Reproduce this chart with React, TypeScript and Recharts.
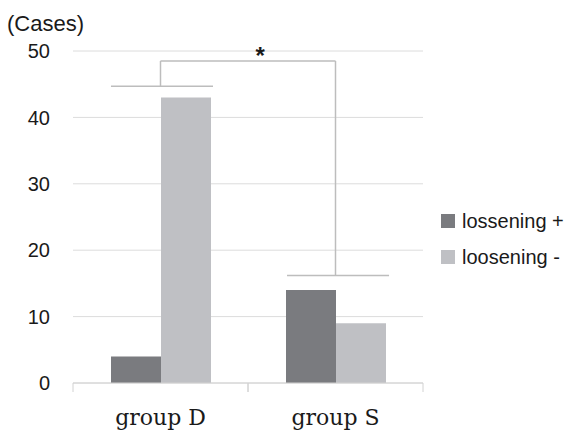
import { BarChart, Bar, XAxis, YAxis, CartesianGrid, ReferenceLine, ReferenceDot } from 'recharts';

// categorias e valores
const groups = ['group D', 'group S'];
const groupPos = [0.5, 1.5];
const loosenPlus = [4, 14];
const loosenMinus = [43, 9];
const seriesNames = ['lossening +', 'loosening -'];
const seriesColors = ['#7a7b7f', '#bfc0c4'];
const yTicks = [0, 10, 20, 30, 40, 50];

// colchete de significância (eixo numérico auxiliar: grupo D = 0..1, grupo S = 1..2)
const bracketTop = 48.5;
const bracketLevels = [44.7, 16.2];
const bracketSpans = [[0.217, 0.8], [1.223, 1.806]];
const starPos = { x: 1.07, y: 48.5 };

const sans = '"Liberation Sans", Arial, sans-serif';
const serif = '"DejaVu Serif", serif';
const lineColor = '#bdbdbd';

// tick do eixo X com marcas nas bordas de cada categoria
const GroupTick = (props: any) => {
  const { x, y, payload } = props;
  const half = payload.offset ?? 0;
  return (
    <g>
      <line x1={x - half} x2={x - half} y1={y - 9} y2={y} stroke="#d2d2d2" />
      <line x1={x + half} x2={x + half} y1={y - 9} y2={y} stroke="#d2d2d2" />
      <text x={x} y={y + 33} textAnchor="middle" fontSize={22} fontFamily={serif} fill="#1a1a1a">
        {payload.value}
      </text>
    </g>
  );
};

export default function App() {
  const data = groups.map((g, i) => ({ name: g, pos: groupPos[i], plus: loosenPlus[i], minus: loosenMinus[i] }));

  return (
    <div style={{ position: 'absolute', left: 0, top: 0, width: 573, height: 430, background: '#fff' }}>
      <BarChart
        width={573}
        height={430}
        data={data}
        margin={{ top: 51, right: 150, bottom: 0, left: 0 }}
        barGap={0}
        barSize={50}
      >
        <CartesianGrid vertical={false} stroke="#dcdcdc" />
        <XAxis
          dataKey="name"
          height={47}
          stroke="#d2d2d2"
          tickLine={false}
          tickSize={0}
          tickMargin={9}
          tick={<GroupTick />}
        />
        <XAxis xAxisId="num" dataKey="pos" type="number" domain={[0, 2]} allowDataOverflow hide />
        <YAxis
          width={73}
          domain={[0, 50]}
          ticks={yTicks}
          axisLine={false}
          tickLine={false}
          tickSize={0}
          tickMargin={23}
          tick={{ fontSize: 20, fontFamily: sans, fill: '#1a1a1a' }}
          label={{
            content: () => (
              <text x={7} y={31} fontSize={22} fontFamily={sans} fill="#1a1a1a">
                (Cases)
              </text>
            ),
          }}
        />
        <Bar dataKey="plus" name={seriesNames[0]} fill={seriesColors[0]} isAnimationActive={false} />
        <Bar dataKey="minus" name={seriesNames[1]} fill={seriesColors[1]} isAnimationActive={false} />

        {/* colchete */}
        <ReferenceLine
          xAxisId="num"
          stroke={lineColor}
          strokeWidth={1.5}
          ifOverflow="visible"
          segment={[{ x: groupPos[0], y: bracketTop }, { x: groupPos[1], y: bracketTop }]}
        />
        {groupPos.map((c, i) => (
          <ReferenceLine
            key={`v-${i}`}
            xAxisId="num"
            stroke={lineColor}
            strokeWidth={1.5}
            ifOverflow="visible"
            segment={[{ x: c, y: bracketTop }, { x: c, y: bracketLevels[i] }]}
          />
        ))}
        {bracketSpans.map((s, i) => (
          <ReferenceLine
            key={`h-${i}`}
            xAxisId="num"
            stroke={lineColor}
            strokeWidth={1.5}
            ifOverflow="visible"
            segment={[{ x: s[0], y: bracketLevels[i] }, { x: s[1], y: bracketLevels[i] }]}
          />
        ))}
        <ReferenceDot
          xAxisId="num"
          x={starPos.x}
          y={starPos.y}
          r={0}
          stroke="none"
          ifOverflow="visible"
          label={{
            content: (p: any) => (
              <text
                x={p.viewBox.cx ?? p.viewBox.x}
                y={(p.viewBox.cy ?? p.viewBox.y) + 3}
                textAnchor="middle"
                fontSize={24}
                fontWeight="bold"
                fontFamily={sans}
                fill="#1a1a1a"
              >
                *
              </text>
            ),
          }}
        />
      </BarChart>

      {/* legenda */}
      <div style={{ position: 'absolute', left: 441, top: 203, fontFamily: sans, fontSize: 20, color: '#1a1a1a' }}>
        {seriesNames.map((n, i) => (
          <div key={n} style={{ display: 'flex', alignItems: 'center', height: 36 }}>
            <span style={{ width: 14, height: 14, background: seriesColors[i], display: 'inline-block', marginRight: 7 }} />
            <span style={{ whiteSpace: 'nowrap' }}>{n}</span>
          </div>
        ))}
      </div>
    </div>
  );
}
